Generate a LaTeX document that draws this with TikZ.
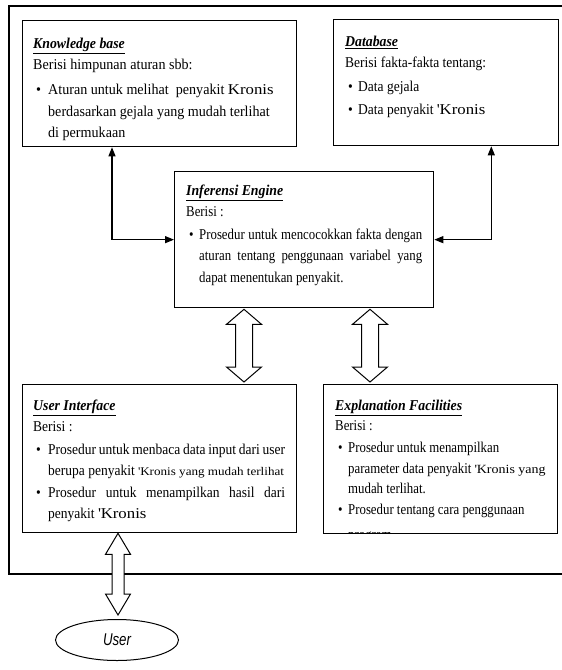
\documentclass[tikz,border=0pt]{standalone}
\usepackage{fontspec}
\setmainfont{Liberation Serif}[FakeStretch=0.9]
\newfontfamily\nf{Liberation Serif}[FakeStretch=0.855]
\newfontfamily\wf{Liberation Serif}[FakeStretch=0.94]
\newfontfamily\tf{Liberation Serif}[FakeStretch=0.92]
\newfontfamily\kr{Liberation Serif}[FakeStretch=1.12]
\newfontfamily\uf{Liberation Sans}[FakeStretch=0.78]
\usetikzlibrary{arrows.meta,shapes.geometric,calc}

\newcommand{\ttl}[1]{{\tf\bfseries\itshape\underline{#1}}}
\newcommand{\bl}{\makebox[15pt][l]{\hspace{3pt}\textbullet}}
\newcommand{\bln}{\makebox[13pt][l]{\hspace{3pt}\textbullet}}
\newcommand{\ind}{\hspace*{15pt}}
\newcommand{\indn}{\hspace*{13pt}}
\newcommand{\jl}[2]{\makebox[#1][s]{#2}}
\newcommand{\fst}{\rule{0pt}{15pt}}
\newcommand{\blockarrow}[5]{%
  \draw[barrow] (#1) -- ($(#1)+(#3,#5)$) -- ($(#1)+(#4,#5)$) -- ($(#2)+(#4,-#5)$)
   -- ($(#2)+(#3,-#5)$) -- (#2) -- ($(#2)+(-#3,-#5)$) -- ($(#2)+(-#4,-#5)$)
   -- ($(#1)+(-#4,#5)$) -- ($(#1)+(-#3,#5)$) -- cycle;}

\begin{document}
\begin{tikzpicture}[x=1pt,y=-1pt,
  box/.style={draw, line width=1.3pt, anchor=north west, inner sep=0pt},
  txt/.style={anchor=north west, inner sep=0pt, align=left,
     font=\fontsize{15}{21.5}\selectfont},
  txtw/.style={anchor=north west, inner sep=0pt, align=left,
     font=\wf\fontsize{15}{21.5}\selectfont},
  txtn/.style={anchor=north west, inner sep=0pt, align=left,
     font=\nf\fontsize{15}{#1}\selectfont},
  conn/.style={line width=1.2pt, {Triangle[length=9pt,width=7pt]}-{Triangle[length=9pt,width=7pt]}},
  barrow/.style={draw, fill=white, line width=1pt, line join=miter}]
\useasboundingbox (0,0) rectangle (562,670);
\fill[white] (0,0) rectangle (562,670);

% outer frame
\draw[line width=1.6pt] (562,6) -- (9,6) -- (9,574) -- (562,574);

% boxes
\node[box, minimum width=274pt, minimum height=126pt] (kb) at (22,20) {};
\node[box, minimum width=225pt, minimum height=126pt] (db) at (333,19) {};
\node[box, minimum width=259pt, minimum height=136pt] (ie) at (174,171) {};
\node[box, minimum width=274pt, minimum height=148pt] (ui) at (22,384) {};
\node[box, minimum width=234pt, minimum height=149pt] (ef) at (323,384) {};

% texts
\node[txtw] (kbt) at (33,33) {\fst\ttl{Knowledge base}\\
Berisi himpunan aturan sbb:\\[3.5pt]
\bl Aturan untuk melihat\ \ penyakit {\kr Kronis}\\
\ind berdasarkan gejala yang mudah terlihat\\
\ind di permukaan};

\node[txt] (dbt) at (345,31) {\fst\ttl{Database}\\
Berisi fakta-fakta tentang:\\[2.5pt]
\bln Data gejala\\[1.5pt]
\bln Data penyakit {\kr\textquotesingle Kronis}};

\node[txtn=21.5] (iet) at (186,180) {\fst\ttl{Inferensi Engine}\\
Berisi :\\[1pt]
\bln\jl{223pt}{Prosedur untuk mencocokkan fakta dengan}\\
\indn\jl{223pt}{aturan tentang penggunaan variabel yang}\\
\indn dapat menentukan penyakit.};

\node[txt] (uit) at (33,395) {\fst\ttl{User Interface}\\
Berisi :\\[1pt]
\bl\jl{237pt}{Prosedur untuk menbaca data input dari user}\\
\ind berupa penyakit {\kr\fontsize{11.7}{21.5}\selectfont\textquotesingle Kronis yang mudah terlihat}\\
\bl\jl{237pt}{Prosedur untuk menampilkan hasil dari}\\
\ind penyakit {\kr\textquotesingle Kronis}};

\begin{scope}
\clip (ef.north west) rectangle ([yshift=0.65pt]ef.south east);
\node[txtn=20.5] (eft) at (335,395) {\fst\ttl{Explanation Facilities}\\
Berisi :\\[1.5pt]
\bln Prosedur untuk menampilkan\\
\indn parameter data penyakit {\kr\fontsize{12.5}{20.5}\selectfont\textquotesingle Kronis yang}\\
\indn mudah terlihat.\\
\bln Prosedur tentang cara penggunaan\\[4.5pt]
\indn program};
\end{scope}

% user
\node[draw, ellipse, line width=1pt, minimum width=123pt, minimum height=41pt, inner sep=0pt]
  (user) at (117,640) {\uf\itshape\fontsize{17}{20}\selectfont User};

% line connectors
\draw[conn] ([xshift=90pt]kb.south west) |- (ie.west);
\draw[conn] ([xshift=-68pt]db.south east) |- (ie.east);

% block arrows
\coordinate (d1t) at ([xshift=70pt,yshift=-1pt]ie.south west);
\coordinate (d1b) at ([yshift=2pt]d1t |- ui.north);
\coordinate (d2t) at ([xshift=196pt,yshift=-1pt]ie.south west);
\coordinate (d2b) at ([yshift=2pt]d2t |- ui.north);
\blockarrow{d1t}{d1b}{17.5}{8.5}{15}
\blockarrow{d2t}{d2b}{17.5}{8.5}{15}

\coordinate (ua) at ([xshift=96pt]ui.south west);
\coordinate (ub) at ([yshift=4pt]ua |- user.north);
\blockarrow{ua}{ub}{12.5}{6}{21}
\end{tikzpicture}
\end{document}
